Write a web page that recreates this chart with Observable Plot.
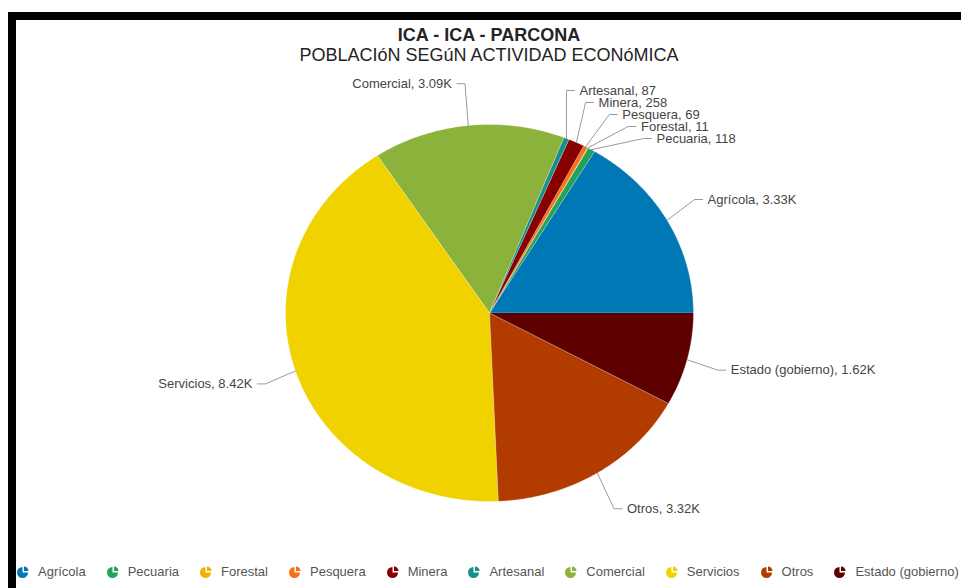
<!DOCTYPE html>
<html><head><meta charset="utf-8">
<script src="https://cdn.jsdelivr.net/npm/d3@7"></script>
<script src="https://cdn.jsdelivr.net/npm/@observablehq/plot@0.6"></script>
<style>
body{margin:0;width:961px;height:588px;overflow:hidden;background:#fff;font-family:"Liberation Sans",Arial,sans-serif;position:relative}
#frame{position:absolute;left:8px;top:12px;width:953px;height:576px;border-top:8px solid #000;border-left:8px solid #000;box-sizing:border-box}
.t{position:absolute;left:0;width:978px;text-align:center;line-height:18px;font-size:18px;color:#252423;white-space:nowrap}
#title{top:26px;font-weight:bold}
#subtitle{top:46px}
#chart{position:absolute;left:0;top:68px}
#legend{position:absolute;left:17px;top:564px;height:16px;display:flex;align-items:center;font-size:13px;line-height:16px;color:#555;white-space:nowrap}
.item{display:flex;align-items:center;margin-right:21px}
.item svg{margin-right:9px;display:block}
</style></head><body>
<div id="frame"></div>
<div id="title" class="t">ICA - ICA - PARCONA</div>
<div id="subtitle" class="t">POBLACIóN SEGúN ACTIVIDAD ECONóMICA</div>
<div id="chart"></div>
<div id="legend"></div>
<script>
const categories = ["Agrícola","Pecuaria","Forestal","Pesquera","Minera","Artesanal","Comercial","Servicios","Otros","Estado (gobierno)"];
const values = [3330,118,11,69,258,87,3090,8420,3320,1620];
const colors = ["#0178B6","#22A25C","#F2B200","#F57214","#880000","#15908D","#8BB23A","#EFD200","#B23C00","#5E0000"];

const W=961, H=480, CX=489, CY=244.5, RX=204, RY=188.5;
const ERX=1.155, ERY=1.223, GAP=12/RY, TOPMAX=(CY-22)/RY;
const fmt = v => v>=1000 ? (v/1000).toFixed(2)+"K" : String(v);

const total = d3.sum(values);
let acc = 0;
const slices = categories.map((name,i)=>{
  const a0 = acc/total*2*Math.PI; acc += values[i];
  const a1 = acc/total*2*Math.PI;
  return {name, value: values[i], a0, a1, mid:(a0+a1)/2};
});
const pts = [];
for (const s of slices) {
  pts.push({name:s.name, x:0, y:0});
  const n = Math.max(2, Math.ceil((s.a1-s.a0)/(Math.PI/360)));
  for (let k=0;k<=n;k++){ const a=s.a0+(s.a1-s.a0)*k/n; pts.push({name:s.name, x:Math.cos(a), y:Math.sin(a)}); }
}

const labels = slices.map(s=>({name:s.name, text:s.name+", "+fmt(s.value), side: Math.cos(s.mid)>=0?1:-1,
  ex:Math.cos(s.mid), ey:Math.sin(s.mid), ly0:ERY*Math.sin(s.mid), ly:ERY*Math.sin(s.mid)}));
for (const side of [1,-1]) {
  const g = labels.filter(l=>l.side===side).sort((a,b)=>b.ly-a.ly);
  for (let it=0; it<500; it++) for (let i=1;i<g.length;i++){
    const d = g[i-1].ly-g[i].ly;
    if (d<GAP){ const m=(GAP-d)/2; g[i-1].ly+=m; g[i].ly-=m; }
  }
  for (let i=0;i<g.length;i++){
    const moved = Math.abs(g[i].ly-g[i].ly0)>1e-6;
    if (moved) g[i].ly = Math.min(g[i].ly, TOPMAX);
    if (i>0) g[i].ly = Math.min(g[i].ly, g[i-1].ly-GAP);
  }
}
const leaders = [];
for (const l of labels) {
  l.lx = l.side*Math.max(Math.abs(l.ex), ERX*Math.sqrt(Math.max(0,1-(l.ly/ERY)**2)));
  l.tx = l.lx + l.side*8/RX;
  leaders.push({name:l.name,x:l.ex,y:l.ey},{name:l.name,x:l.lx,y:l.ly},{name:l.name,x:l.tx,y:l.ly});
}

const chart = Plot.plot({
  width:W, height:H, margin:0,
  x:{domain:[-CX/RX,(W-CX)/RX], axis:null},
  y:{domain:[-(H-CY)/RY, CY/RY], axis:null},
  color:{domain:categories, range:colors},
  style:{background:"transparent", fontFamily:"'Liberation Sans',Arial,sans-serif", fontSize:"13px", overflow:"visible"},
  marks:[
    Plot.line(pts,{x:"x",y:"y",z:"name",fill:"name",stroke:"white",strokeWidth:0.5,strokeOpacity:0.6}),
    Plot.line(leaders,{x:"x",y:"y",z:"name",stroke:"#9a9a9a",strokeWidth:1}),
    Plot.text(labels.filter(l=>l.side>0),{x:"tx",y:"ly",text:"text",textAnchor:"start",dx:5,fill:"#454545",fontSize:13}),
    Plot.text(labels.filter(l=>l.side<0),{x:"tx",y:"ly",text:"text",textAnchor:"end",dx:-5,fill:"#454545",fontSize:13})
  ]
});
document.getElementById("chart").appendChild(chart);

const legend = document.getElementById("legend");
categories.forEach((c,i)=>{
  const it = document.createElement("div"); it.className="item";
  it.innerHTML = `<svg width="12" height="12" viewBox="0 0 12 12"><path d="M5.5,6.5 L11,6.5 A5.5,5.5 0 1,1 5.5,1 Z" fill="${colors[i]}"/><path d="M7,5 L7,0.5 A4.5,4.5 0 0,1 11.5,5 Z" fill="${colors[i]}"/></svg><span>${c}</span>`;
  legend.appendChild(it);
});
</script>
</body></html>
